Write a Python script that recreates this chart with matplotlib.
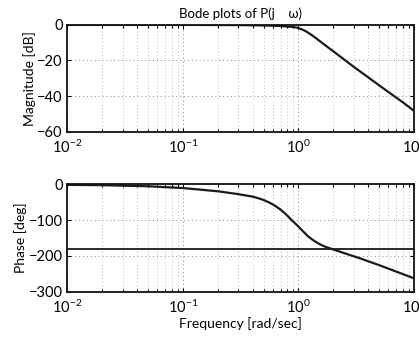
import numpy as np
import matplotlib
matplotlib.use('Agg')
import matplotlib.pyplot as plt
from matplotlib.ticker import LogLocator, NullFormatter

# values
mag_w = [0.01, 0.1, 0.3, 0.5, 0.7, 0.8, 0.9, 0.95, 1.0, 1.05, 1.1, 1.15, 1.2, 1.3, 1.4, 1.5, 1.6, 1.8,
         2.0, 2.5, 3.0, 4.0, 5.0, 6.0, 7.0, 8.0, 10.0]
mag_db = [0.0, 0.0, -0.1, -0.3, -0.6, -0.9, -1.2, -1.45, -1.8, -2.3, -2.9, -3.5, -4.2, -5.7, -7.2, -8.7, -10.1, -12.6,
          -14.8, -19.6, -23.5, -29.4, -34.0, -37.7, -40.8, -43.5, -48.3]

ph_w = [0.01, 0.02, 0.05, 0.1, 0.2, 0.3, 0.4, 0.45, 0.5, 0.55, 0.6, 0.65, 0.7, 0.73, 0.8, 0.85, 0.9, 0.95,
        1.0, 1.05, 1.1, 1.15, 1.2, 1.3, 1.4, 1.5, 1.65, 1.8, 2.0, 2.2, 2.5, 3.0, 3.5, 4.0, 5.0, 6.5, 7.0, 8.0, 10.0]
ph_deg = [-1, -2, -5, -10, -19, -27, -34, -38.5, -43.5, -49.5, -56, -63, -70.5, -75.5, -87, -96, -104, -111,
          -118, -125, -132, -138, -144, -153, -160, -166, -172.5, -177, -182, -186.5, -192.5, -201, -208, -215, -226, -240, -244, -251, -263]

ph_ref = -180
xticks = [0.01, 0.1, 1, 10]
xticklabels = ['$10^{-2}$', '$10^{-1}$', '$10^{0}$', '$10^{1}$']
mag_ticks = [0, -20, -40, -60]
ph_ticks = [0, -100, -200, -300]

plt.rcParams['font.family'] = ['Lato', 'DejaVu Sans']
plt.rcParams['mathtext.fontset'] = 'custom'
plt.rcParams['mathtext.rm'] = 'Lato'
plt.rcParams['mathtext.it'] = 'Lato'
plt.rcParams['font.size'] = 10


def style(ax, yticks):
    ax.set_xscale('log')
    ax.set_xlim(0.01, 10)
    ax.set_ylim(yticks[-1], yticks[0])
    ax.set_yticks(yticks)
    ax.set_xticks(xticks)
    ax.set_xticklabels(xticklabels)
    ax.xaxis.set_minor_locator(LogLocator(base=10, subs=np.arange(2, 10)))
    ax.xaxis.set_minor_formatter(NullFormatter())
    ax.grid(True, which='major', color='#888888', linestyle=(0, (1, 3)), linewidth=0.7)
    ax.grid(True, which='minor', axis='x', color='#aaaaaa', linestyle=(0, (1, 3)), linewidth=0.6)
    ax.tick_params(which='both', direction='in', top=True, right=True, length=3, width=0.8,
                   labelsize=10.5)
    ax.tick_params(which='minor', length=2)
    ax.tick_params(axis='x', pad=5)
    for s in ax.spines.values():
        s.set_linewidth(1.3)
        s.set_color('#111111')


fig = plt.figure(figsize=(4.19, 3.41), dpi=100)
ax1 = fig.add_axes([0.161, 0.614, 0.827, 0.313])
ax2 = fig.add_axes([0.161, 0.145, 0.827, 0.314])

ax1.plot(mag_w, mag_db, color='#1a1a1a', lw=1.6)
style(ax1, mag_ticks)
ax1.set_ylabel('Magnitude [dB]', labelpad=1)
ax1.set_title('Bode plots of P(j    ω)', fontsize=9.5, pad=5)

ax2.plot(ph_w, ph_deg, color='#1a1a1a', lw=1.6)
ax2.axhline(ph_ref, color='#1a1a1a', lw=1.3)
style(ax2, ph_ticks)
ax2.set_ylabel('Phase [deg]', labelpad=1)
ax2.set_xlabel('Frequency [rad/sec]', labelpad=1)

fig.savefig('out.png', dpi=100)
